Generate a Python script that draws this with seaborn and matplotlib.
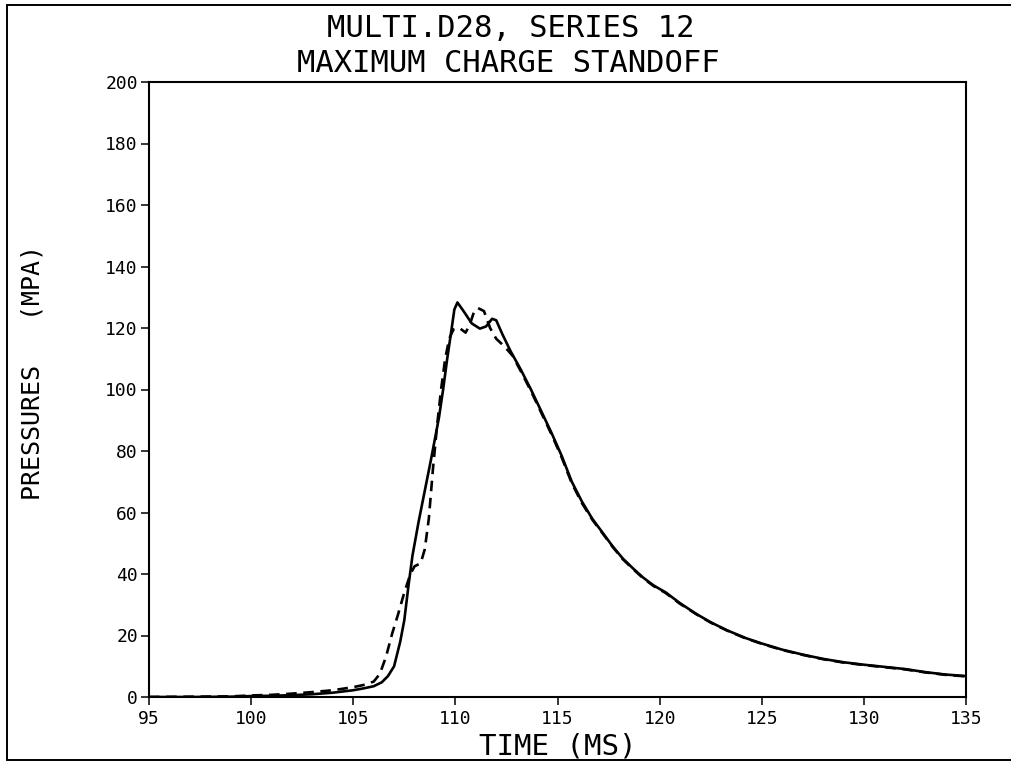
import numpy as np
import pandas as pd
import matplotlib
matplotlib.use("Agg")
import matplotlib.pyplot as plt
from matplotlib.lines import Line2D
import seaborn as sns

# ---- data ----
solid_time = [95.0, 97.0, 99.0, 100.0, 101.0, 102.0, 103.0, 104.0, 105.0, 105.5,
              106.0, 106.4, 106.7, 107.0, 107.3, 107.5, 107.7, 107.9, 108.2, 108.5,
              108.8, 109.0, 109.2, 109.4, 109.6, 109.8, 109.95, 110.1, 110.4, 110.8,
              111.2, 111.5, 111.8, 112.0, 112.3, 112.7, 113.2, 113.7, 114.2, 114.7,
              115.2, 115.7, 116.2, 116.7, 117.2, 117.7, 118.2, 118.7, 119.2, 119.7,
              120.3, 121.0, 121.8, 122.5, 123.3, 124.2, 125.0, 126.0, 127.0, 128.0,
              129.0, 130.0, 131.0, 132.0, 133.0, 134.0, 135.0]
solid_pressure = [0.0, 0.0, 0.1, 0.3, 0.4, 0.6, 0.9, 1.4, 2.2, 2.8,
                  3.5, 4.8, 6.8, 10.0, 18.0, 25.0, 36.0, 46.0, 57.0, 67.0,
                  77.0, 84.0, 91.0, 100.0, 110.0, 119.0, 126.0, 128.3, 125.5, 121.5,
                  119.8, 120.5, 123.0, 122.5, 118.0, 112.5, 106.5, 100.0, 93.0, 86.0,
                  78.5, 70.0, 63.5, 58.0, 53.5, 49.0, 45.0, 41.8, 38.8, 36.3,
                  34.0, 30.5, 27.0, 24.3, 21.7, 19.2, 17.4, 15.4, 13.8, 12.4,
                  11.3, 10.5, 9.8, 9.1, 8.1, 7.3, 6.8]

dashed_time = [95.0, 99.0, 100.0, 101.0, 102.0, 103.0, 104.0, 105.0, 105.5, 106.0,
               106.3, 106.6, 106.9, 107.2, 107.5, 107.8, 108.0, 108.3, 108.5, 108.7,
               108.9, 109.1, 109.3, 109.5, 109.7, 109.9, 110.2, 110.5, 110.7, 110.9,
               111.1, 111.4, 111.7, 112.0, 112.4, 112.8, 113.2, 113.7, 114.2, 114.7,
               115.2, 115.7, 116.2, 116.7, 117.2, 117.7, 118.2, 118.7, 119.2, 119.7,
               120.3, 121.0, 121.8, 122.5, 123.3, 124.2, 125.0, 126.0, 127.0, 128.0,
               129.0, 130.0, 131.0, 132.0, 133.0, 134.0, 135.0]
dashed_pressure = [0.0, 0.2, 0.5, 0.7, 1.1, 1.6, 2.2, 3.2, 3.9, 5.0,
                   7.5, 13.0, 20.5, 27.0, 34.0, 40.0, 42.5, 43.5, 48.0, 58.0,
                   74.0, 88.0, 100.0, 110.0, 116.5, 119.5, 120.0, 118.5, 121.0, 125.0,
                   126.5, 125.5, 120.0, 116.5, 114.0, 111.0, 106.0, 99.5, 92.5, 85.5,
                   78.0, 69.5, 63.0, 57.7, 53.3, 48.8, 44.8, 41.6, 38.6, 36.1,
                   33.8, 30.3, 26.9, 24.2, 21.6, 19.1, 17.3, 15.3, 13.7, 12.3,
                   11.2, 10.4, 9.7, 9.0, 8.0, 7.2, 6.7]

x_ticks = [95, 100, 105, 110, 115, 120, 125, 130, 135]
y_ticks = [0, 20, 40, 60, 80, 100, 120, 140, 160, 180, 200]
title_lines = ["MULTI.D28, SERIES 12", "MAXIMUM CHARGE STANDOFF"]
x_label = "TIME (MS)"
y_label = "PRESSURES   (MPA)"

df = pd.concat([
    pd.DataFrame({"time": solid_time, "pressure": solid_pressure, "series": "solid"}),
    pd.DataFrame({"time": dashed_time, "pressure": dashed_pressure, "series": "dashed"}),
], ignore_index=True)

# ---- styling ----
sns.set_style("ticks")
plt.rcParams["font.family"] = ["DejaVu Sans Mono", "DejaVu Sans"]

W, H = 1011, 767
fig = plt.figure(figsize=(W / 100, H / 100), dpi=100)
ax = fig.add_axes([149 / W, 1 - 697 / H, (966 - 149) / W, (697 - 82) / H])

sns.lineplot(data=df, x="time", y="pressure", style="series",
             dashes={"solid": "", "dashed": (4, 2.5)},
             color="black", linewidth=1.9, estimator=None, sort=False,
             legend=False, ax=ax)

ax.set_xlim(95, 135)
ax.set_ylim(0, 200)
ax.set_xticks(x_ticks)
ax.set_xticklabels([str(t) for t in x_ticks])
ax.set_yticks(y_ticks)
ax.set_yticklabels([str(t) for t in y_ticks])
ax.tick_params(axis="both", direction="out", length=6, width=1.1, color="black",
               labelcolor="black", labelsize=13)
ax.tick_params(axis="x", pad=3)
ax.tick_params(axis="y", pad=2)
for s in ax.spines.values():
    s.set_visible(True)
    s.set_linewidth(1.5)
    s.set_color("black")
ax.set_xlabel("")
ax.set_ylabel("")

# titles and labels as figure text
fig.text(511 / W, 1 - 37 / H, title_lines[0], ha="center", va="baseline",
         fontsize=22, color="black")
fig.text(508 / W, 1 - 72 / H, title_lines[1], ha="center", va="baseline",
         fontsize=22, color="black")
fig.text(558 / W, 1 - 755 / H, x_label, ha="center", va="baseline",
         fontsize=21, color="black")
fig.text(33 / W, 1 - 372 / H, y_label, ha="center", va="center",
         rotation=90, fontsize=18, color="black")

# outer frame of the scanned page
for xs, ys in [([7, 7], [5, 760]), ([7, 1011], [5, 5]), ([7, 1011], [760, 760])]:
    fig.add_artist(Line2D([x / W for x in xs], [1 - y / H for y in ys],
                          color="black", linewidth=1.4))

fig.savefig("out.png", dpi=100, facecolor="white")
